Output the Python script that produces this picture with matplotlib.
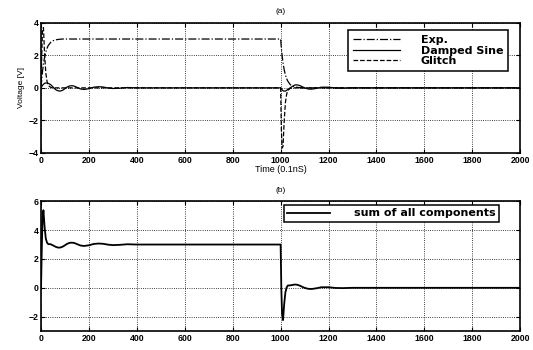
import matplotlib.pyplot as plt
from matplotlib.font_manager import FontProperties

plt.rcParams['font.family'] = ['Liberation Sans', 'DejaVu Sans']
plt.rcParams['font.weight'] = 'bold'

# 時間點 (0.1nS)
t = [0, 3, 6, 10, 15, 20, 25, 30, 40, 50, 60, 70, 80, 90, 100, 110, 120, 130,
     140, 150, 165, 180, 200, 220, 240, 260, 280, 300, 330, 360, 400, 450, 500,
     600, 700, 800, 900, 990, 1000, 1003, 1006, 1010, 1015, 1020, 1025, 1030,
     1040, 1050, 1060, 1070, 1080, 1090, 1100, 1115, 1130, 1150, 1170, 1200,
     1230, 1260, 1300, 1400, 1500, 1600, 1700, 1800, 1900, 2000]

# 各成分 [V]
exp_part = [0, 0.54, 0.99, 1.46, 1.9, 2.2, 2.43, 2.6, 2.79, 2.89, 2.95, 2.97,
            2.99, 3, 3, 3, 3, 3, 3, 3, 3, 3, 3, 3, 3, 3, 3, 3, 3, 3, 3, 3, 3,
            3, 3, 3, 3, 3, 3, 2.46, 2.0, 1.54, 1.1, 0.79, 0.57, 0.41,
            0.2, 0.1, 0.05, 0.03, 0.01, 0, 0, 0, 0, 0, 0, 0,
            0, 0, 0, 0, 0, 0, 0, 0, 0, 0]
sine_part = [0, 0.08, 0.15, 0.22, 0.28, 0.3, 0.3, 0.28, 0.2, 0.05, -0.1, -0.18,
             -0.2, -0.15, -0.05, 0.06, 0.12, 0.13, 0.1, 0.03, -0.07, -0.1,
             -0.05, 0.04, 0.07, 0.05, -0.01, -0.04, -0.02, 0.02, 0, 0, 0,
             0, 0, 0, 0, 0, 0, -0.06, -0.12, -0.18, -0.2, -0.2, -0.15, -0.1,
             0.0, 0.1, 0.18, 0.18, 0.14, 0.07, 0.0, -0.07, -0.08, -0.03, 0.04, 0.04,
             -0.01, -0.02, 0, 0, 0, 0, 0, 0, 0, 0]
glitch_part = [0, 2.0, 3.6, 3.7, 2.0, 0.9, 0.4, 0.15, 0.03, 0, 0, 0,
               0, 0, 0, 0, 0, 0, 0, 0, 0, 0, 0, 0, 0, 0, 0, 0, 0, 0, 0, 0, 0,
               0, 0, 0, 0, 0, 0, -2.5, -3.7, -3.6, -2.0, -0.9, -0.4, -0.15,
               -0.03, 0, 0, 0, 0, 0, 0, 0, 0, 0, 0, 0,
               0, 0, 0, 0, 0, 0, 0, 0, 0, 0]

total = [a + b + c for a, b, c in zip(exp_part, sine_part, glitch_part)]

leg_font = FontProperties(family='DejaVu Sans', weight='bold', size=8)

fig = plt.figure(figsize=(5.33, 3.5), dpi=100)
ax1 = fig.add_axes([0.077, 0.563, 0.899, 0.372])
ax2 = fig.add_axes([0.077, 0.054, 0.899, 0.371])

# (a) 各成分
ax1.plot(t, exp_part, color='black', linestyle='-.', linewidth=0.9, label='Exp.')
ax1.plot(t, sine_part, color='black', linestyle='-', linewidth=0.9, label='Damped Sine')
ax1.plot(t, glitch_part, color='black', linestyle='--', linewidth=0.9, label='Glitch')
ax1.set_xlim(0, 2000)
ax1.set_ylim(-4, 4)
ax1.set_yticks([-4, -2, 0, 2, 4])
ax1.set_xticks(range(0, 2001, 200))
ax1.set_xlabel('Time (0.1nS)', fontsize=6.5, labelpad=0)
ax1.set_ylabel('Voltage [V]', fontsize=6, labelpad=2)
ax1.set_title('(a)', fontsize=6, pad=7)
leg1 = ax1.legend(loc='upper right', prop=leg_font, frameon=True, fancybox=False,
                  edgecolor='black', framealpha=1, handlelength=4.2, borderpad=0.45,
                  labelspacing=0.05, handletextpad=1.9, borderaxespad=0,
                  bbox_to_anchor=(0.975, 0.944))
leg1.get_frame().set_linewidth(1.1)

# (b) 合成
ax2.plot(t, total, color='black', linewidth=1.3, label='sum of all components')
ax2.set_xlim(0, 2000)
ax2.set_ylim(-3, 6)
ax2.set_yticks([-2, 0, 2, 4, 6])
ax2.set_xticks(range(0, 2001, 200))
ax2.set_title('(b)', fontsize=6, pad=7)
leg2 = ax2.legend(loc='upper right', prop=leg_font, frameon=True, fancybox=False,
                  edgecolor='black', framealpha=1, handlelength=3.8, borderpad=0.3,
                  handletextpad=2.2, borderaxespad=0,
                  bbox_to_anchor=(0.956, 0.97))
leg2.get_frame().set_linewidth(1.1)

for ax in (ax1, ax2):
    ax.grid(True, linestyle=':', color='black', linewidth=0.6)
    ax.tick_params(direction='in', labelsize=6.3, length=3, top=True, right=True, pad=2)
    for s in ax.spines.values():
        s.set_linewidth(1.2)

plt.savefig('out.png', dpi=100)
